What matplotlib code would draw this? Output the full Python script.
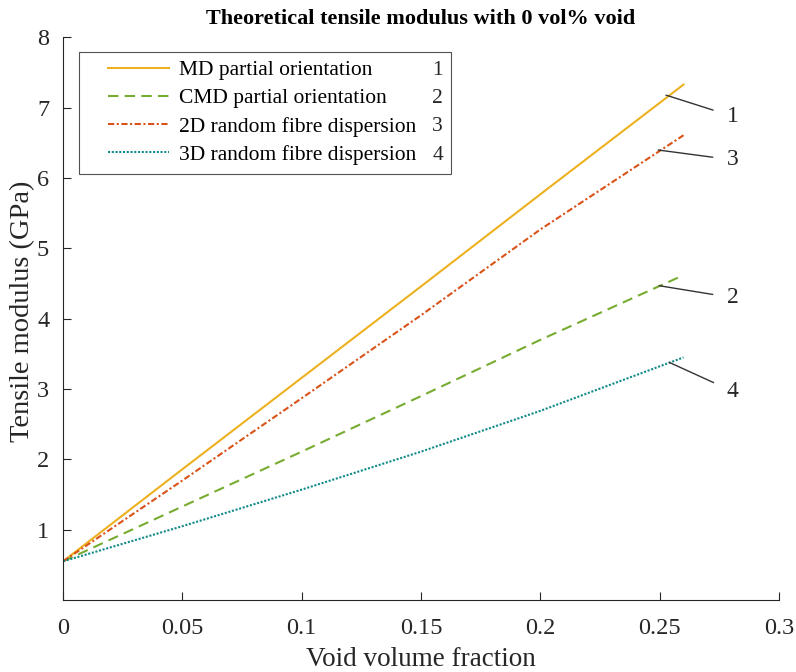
import numpy as np
import matplotlib
matplotlib.use("Agg")
import matplotlib.pyplot as plt
from matplotlib.legend_handler import HandlerLine2D

plt.rcParams["font.family"] = ["Liberation Serif", "DejaVu Serif"]

# 데이터
void_frac = [0.0, 0.05, 0.10, 0.15, 0.20, 0.26]
md_partial = [0.55, 1.86, 3.16, 4.46, 5.77, 7.33]
cmd_partial = [0.55, 1.33, 2.11, 2.90, 3.70, 4.62]
random_2d = [0.55, 1.70, 2.87, 4.05, 5.27, 6.61]
random_3d = [0.55, 1.05, 1.57, 2.11, 2.69, 3.45]

labels = ["MD partial orientation", "CMD partial orientation",
          "2D random fibre dispersion", "3D random fibre dispersion"]
numbers = ["1", "2", "3", "4"]
colors = ["#EDB120", "#77AC30", "#D95319", "#138A8A"]
styles = ["-", (0, (5, 3)), (0, (3, 1.2, 1, 1.2)), (0, (1, 0.8))]

# 주석 선: (곡선 위 점, 글자 위치)
ann_xy = [(0.2527, 7.18), (0.2498, 4.47), (0.2494, 6.40), (0.2540, 3.38)]
ann_text = [(0.2805, 6.88), (0.2805, 4.30), (0.2805, 6.26), (0.2805, 2.97)]


class ShortLine(HandlerLine2D):
    # 범례 아이콘 왼쪽 여백 (MATLAB 스타일)
    def get_xdata(self, legend, xdescent, ydescent, width, height, fontsize):
        xd = np.array([-xdescent + 0.25 * width, -xdescent + width])
        return xd, xd


fig = plt.figure(figsize=(7.96, 6.72), dpi=100)
ax = fig.add_axes([0.0792, 0.1071, 0.8994, 0.8371])

series = [md_partial, cmd_partial, random_2d, random_3d]
handles = []
for ys, c, ls, lab in zip(series, colors, styles, labels):
    h, = ax.plot(void_frac, ys, color=c, ls=ls, lw=1.5, label=lab)
    handles.append(h)

for num, xy, xt in zip(numbers, ann_xy, ann_text):
    ax.annotate(num, xy=xy, xytext=xt, fontsize=17, ha="center", va="center",
                color="#262626",
                arrowprops=dict(arrowstyle="-", color="#333333", lw=1.0,
                                shrinkA=8, shrinkB=0))

ax.set_xlim(0, 0.3)
ax.set_ylim(0, 8)
ax.set_xticks([0, 0.05, 0.1, 0.15, 0.2, 0.25, 0.3])
ax.set_xticklabels(["0", "0.05", "0.1", "0.15", "0.2", "0.25", "0.3"])
ax.set_yticks(range(1, 9))
ax.spines["top"].set_visible(False)
ax.spines["right"].set_visible(False)
for sp in ["left", "bottom"]:
    ax.spines[sp].set_color("#262626")
    ax.spines[sp].set_linewidth(0.8)
ax.tick_params(direction="in", length=6, width=0.8, colors="#262626",
               labelsize=17.5)
ax.tick_params(axis="x", pad=13)
ax.tick_params(axis="y", pad=10)
ax.set_xlabel("Void volume fraction", fontsize=19.5, color="#262626", labelpad=6)
ax.set_ylabel("Tensile modulus (GPa)", fontsize=20.5, color="#262626")
ax.yaxis.set_label_coords(-0.039, 0.513)
ax.set_title("Theoretical tensile modulus with 0 vol% void", fontsize=16,
             fontweight="bold", pad=10)

leg = ax.legend(handles=handles, loc="upper left",
                bbox_to_anchor=(0.022, 0.975, 0.52, 0.0), mode="expand",
                fontsize=15.5, frameon=True, fancybox=False, edgecolor="#262626",
                handlelength=3.8, handletextpad=0.45, labelspacing=0.38,
                borderpad=0.4, borderaxespad=0,
                handler_map={h: ShortLine() for h in handles})
leg.get_frame().set_linewidth(0.8)

fig.canvas.draw()
lb = leg.get_window_extent()
for t, num in zip(leg.get_texts(), numbers):
    tb = t.get_window_extent()
    fig.text((lb.x1 - 8) / fig.bbox.width, (tb.y0 + tb.y1) / 2 / fig.bbox.height,
             num, fontsize=15.5, ha="right", va="center", color="#262626")

fig.savefig("out.png", dpi=100)
